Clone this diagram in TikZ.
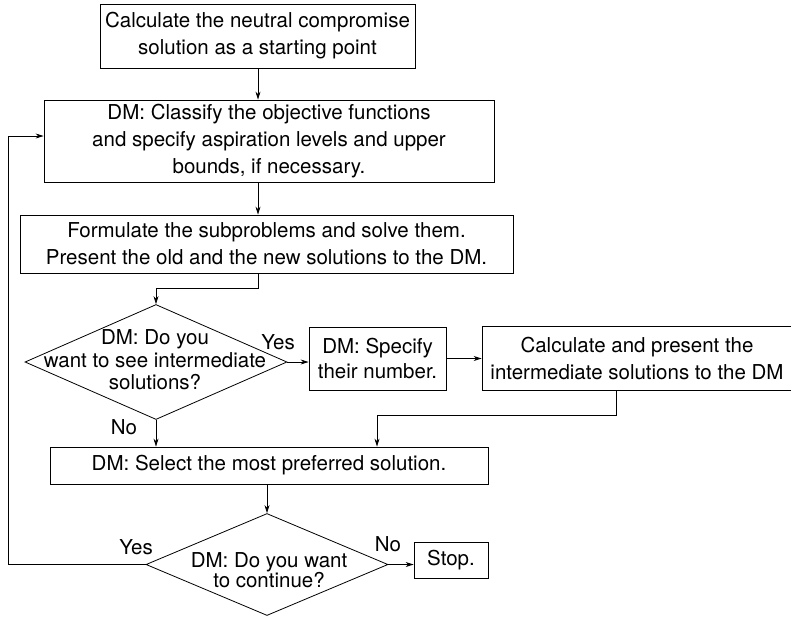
\documentclass[tikz,border=0pt]{standalone}
\usepackage{fontspec}
\setmainfont{TeX Gyre Heros}
\usetikzlibrary{arrows.meta,shapes.geometric}
\begin{document}
\begin{tikzpicture}[x=1pt,y=-1pt,
  box/.style={draw, line width=0.8pt, inner sep=0pt, align=center, font=\fontsize{20.5}{27}\selectfont},
  dshape/.style={draw, diamond, line width=0.8pt, inner sep=0pt},
  dtext/.style={inner sep=0pt, align=center},
  lbl/.style={inner sep=0pt, font=\fontsize{20.5}{24}\selectfont},
  arr/.style={line width=0.8pt, -{Stealth[length=8pt,width=5pt]}}]
\useasboundingbox (0,0) rectangle (791,619);
% boxes
\node[box, minimum width=315pt, minimum height=64pt] (b1) at (257.5,36) {Calculate the neutral compromise\\solution as a starting point};
\node[box, minimum width=450pt, minimum height=82pt] (b2) at (269,141) {DM: Classify the objective functions\\and specify aspiration levels and upper\\bounds, if necessary.};
\node[box, minimum width=493pt, minimum height=58pt] (b3) at (266.5,244) {Formulate the subproblems and solve them.\\Present the old and the new solutions to the DM.};
\node[dshape, minimum width=262pt, minimum height=115pt] (d1) at (156,362) {};
\node[dtext, font=\fontsize{20.5}{22.5}\selectfont] (d1t) at (155,360) {DM: Do you\\want to see intermediate\\solutions?};
\node[box, font=\fontsize{20.5}{25}\selectfont, minimum width=137pt, minimum height=63pt] (sp) at (377.5,358.5) {DM: Specify\\their number.};
\node[box, minimum width=310pt, minimum height=64pt] (calc) at (637,358) {Calculate and present the\\intermediate solutions to the DM};
\node[box, minimum width=438pt, minimum height=37pt] (sel) at (269,465.5) {DM: Select the most preferred solution.};
\node[dshape, minimum width=242pt, minimum height=102pt] (d2) at (267,564.5) {};
\node[dtext, font=\fontsize{20.5}{19.5}\selectfont] (d2t) at (269,570) {DM: Do you want\\to continue?};
\node[box, minimum width=74pt, minimum height=36pt] (stop) at (451,560) {Stop.};
% labels
\node[lbl] (y1) at (278,342) {Yes};
\node[lbl] (n1) at (124,427) {No};
\node[lbl] (y2) at (136,547) {Yes};
\node[lbl] (n2) at (388,544) {No};
% helper coordinates
\coordinate (c1) at (258,288);
\coordinate (c3) at (616,415);
\coordinate (c4) at (377,415);
\coordinate (lp) at (8,136);
% connectors
\draw[arr] (b1.south -| c1) -- (b2.north -| c1);
\draw[arr] (b2.south -| c1) -- (b3.north -| c1);
\draw[arr] (b3.south -| c1) -- (c1) -| (d1.north);
\draw[arr] (d1.east) -- (sp.west |- d1.east);
\draw[arr] (sp.east) -- (calc.west |- sp.east);
\draw[arr] (c3 |- calc.south) -- (c3) -- (c4) -- (c4 |- sel.north);
\draw[arr] (d1.south) -- (d1.south |- sel.north);
\draw[arr] (sel.south -| d2.north) -- (d2.north);
\draw[arr] (d2.east) -- (stop.west |- d2.east);
\draw[arr] (d2.west) -| (lp) -- (b2.west |- lp);
\end{tikzpicture}
\end{document}
